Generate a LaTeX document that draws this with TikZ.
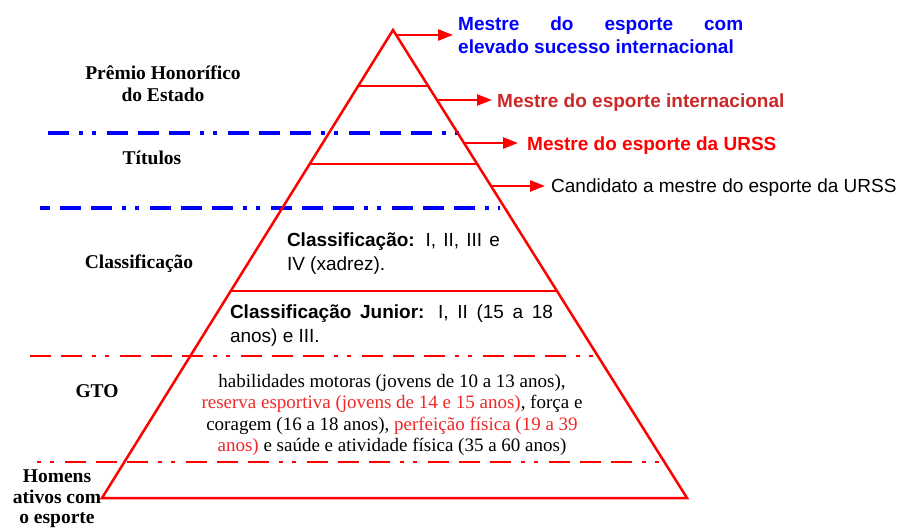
\documentclass[tikz,border=0pt]{standalone}
\usepackage{fontspec}
\setmainfont{Liberation Serif}
\newfontfamily\arialf{Liberation Sans}
\usetikzlibrary{calc,arrows.meta}
\definecolor{pyrred}{RGB}{255,0,0}
\definecolor{brick}{RGB}{204,40,40}
\definecolor{lightred}{RGB}{240,40,40}
\definecolor{bblue}{RGB}{0,0,255}
\begin{document}
\begin{tikzpicture}[x=1pt,y=-1pt,
  pyr/.style={draw=pyrred,line width=2.5pt,line join=miter},
  arr/.style={draw=pyrred,line width=2.5pt,-{Triangle[length=15pt,width=11pt]}},
  ddpat/.style={dash pattern=on 21pt off 10pt on 21pt off 10pt on 21pt off 10pt on 4pt off 9pt on 4pt off 11pt},
  ddb/.style={draw=bblue,line width=3.5pt,ddpat},
  ddr/.style={draw=pyrred,line width=2.6pt,ddpat},
  lab/.style={font=\fontsize{19.5}{22}\selectfont\bfseries,align=center,inner sep=0pt},
  sans/.style={font=\arialf\fontsize{19}{24}\selectfont,inner sep=0pt},
  gto/.style={font=\fontsize{19}{21.3}\selectfont,align=center,inner sep=0pt},
]
\fill[white] (0,0) rectangle (904,529);
\useasboundingbox (0,0) rectangle (904,529);

% dash-dot separators
\coordinate (b1l) at (48,133);  \coordinate (b1r) at (460,133);
\coordinate (b2l) at (40,208);  \coordinate (b2r) at (500,208);
\coordinate (r1l) at (30,356);  \coordinate (r1r) at (598,356);
\coordinate (r2l) at (37,462);  \coordinate (r2r) at (663,462);
\draw[ddb,dash phase=62pt] (b1l) -- (b1r);
\draw[ddb,dash phase=11pt] (b2l) -- (b2r);
\draw[ddr,dash phase=31pt] (r1l) -- (r1r);
\draw[ddr,dash phase=93pt] (r2l) -- (r2r);

% pyramid
\coordinate (A) at (393,30);
\coordinate (BL) at (102,498);
\coordinate (BR) at (687,498);
\draw[pyr] (A) -- (BL) -- (BR) -- cycle;
\coordinate (L1) at ($(A)!0.1197!(BL)$); \coordinate (R1) at ($(A)!0.1197!(BR)$);
\coordinate (L2) at ($(A)!0.2863!(BL)$); \coordinate (R2) at ($(A)!0.2863!(BR)$);
\coordinate (L3) at ($(A)!0.5577!(BL)$); \coordinate (R3) at ($(A)!0.5577!(BR)$);
\draw[pyr] (L1) -- (R1);
\draw[pyr] (L2) -- (R2);
\draw[pyr] (L3) -- (R3);

% right-hand labels
\node[sans,anchor=west,text width=285pt,align=justify,text=bblue,font=\arialf\fontsize{19}{23}\selectfont\bfseries] (t1) at (458,35)
  {Mestre do esporte com\linebreak elevado sucesso internacional};
\node[sans,anchor=west,text=brick,font=\arialf\fontsize{19}{24}\selectfont\bfseries] (t2) at (497,103) {Mestre do esporte internacional};
\node[sans,anchor=west,text=pyrred,font=\arialf\fontsize{19}{24}\selectfont\bfseries] (t3) at (527,145.5) {Mestre do esporte da URSS};
\node[sans,anchor=west] (t4) at (551,188) {Candidato a mestre do esporte da URSS};

\coordinate (s1) at ($(A)!0.0107!(BR)$);
\coordinate (s2) at ($(A)!0.1496!(BR)$);
\coordinate (s3) at ($(A)!0.2415!(BR)$);
\coordinate (s4) at ($(A)!0.3333!(BR)$);
\draw[arr,shorten >=5pt] (s1) -- (s1 -| t1.west);
\draw[arr,shorten >=5pt] (s2) -- (s2 -| t2.west);
\draw[arr,shorten >=9pt] (s3) -- (s3 -| t3.west);
\draw[arr,shorten >=6pt] (s4) -- (s4 -| t4.west);

% inner texts
\node[sans,text width=213pt,align=justify] (c1) at (393.5,254)
  {{\bfseries Classificação:} I, II, III e\linebreak IV (xadrez).};
\node[sans,text width=323pt,align=justify] (c2) at (391.5,326)
  {{\bfseries Classificação Junior:} I, II (15 a 18\linebreak anos) e III.};
\node[gto] (g) at (392,415)
  {habilidades motoras (jovens de 10 a 13 anos),\\
   \textcolor{lightred}{reserva esportiva (jovens de 14 e 15 anos)}, força e\\
   coragem (16 a 18 anos), \textcolor{lightred}{perfeição física (19 a 39}\\
   \textcolor{lightred}{anos)} e saúde e atividade física (35 a 60 anos)};

% left-hand labels
\node[lab] (p) at (163,84) {Prêmio Honorífico\\do Estado};
\node[lab] (ti) at (152,158) {Títulos};
\node[lab] (cl) at (139,264) {Classificação};
\node[lab] (gt) at (97,391) {GTO};
\node[lab,font=\fontsize{19.5}{20.5}\selectfont\bfseries] (ho) at (57,499) {Homens\\ativos com\\o esporte};
\end{tikzpicture}
\end{document}
